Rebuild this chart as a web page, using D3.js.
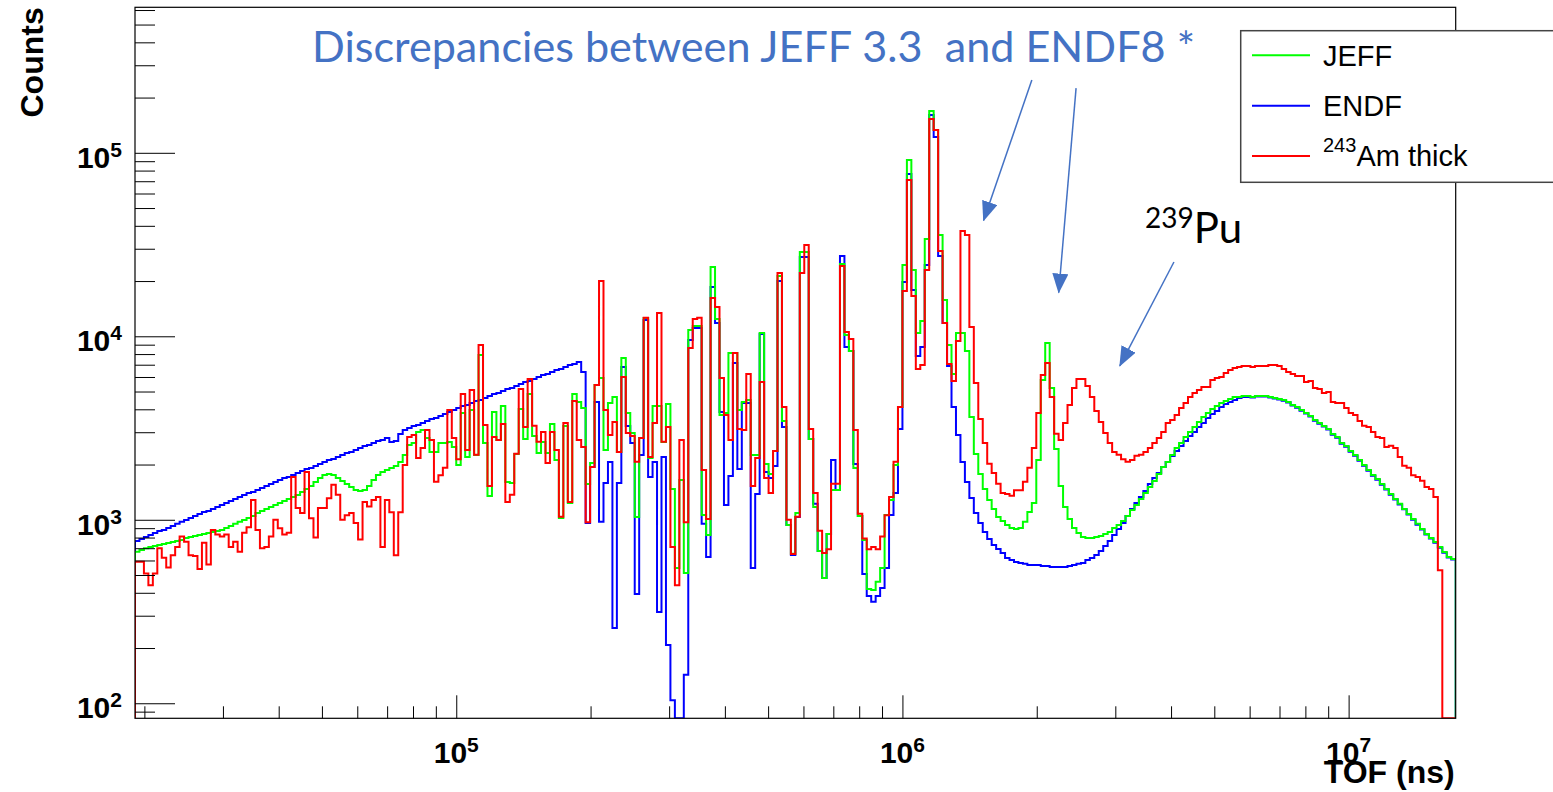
<!DOCTYPE html>
<html>
<head>
<meta charset="utf-8">
<title>TOF spectra - JEFF vs ENDF</title>
<script src="https://cdn.jsdelivr.net/npm/d3@7"></script>
<style>
  body { margin: 0; background: #fff; }
  svg { font-family: "Liberation Sans", Arial, Helvetica, sans-serif; }
</style>
</head>
<body>
<div id="chart"></div>
<script>
// Histogram binning: 100 logarithmic bins per decade, first edge at 10^4.28 ns
const binLogStart = 4.28;
const binsPerDecade = 100;

// JEFF 3.3 (green)
const jeffCounts = [
  670, 685, 700, 710, 720, 729, 738, 748, 757, 766,
  776, 796, 806, 816, 826, 837, 848, 859, 869, 880,
  902, 926, 950, 974, 998, 1023, 1049, 1090, 1117, 1146,
  1175, 1205, 1236, 1267, 1298, 1332, 1365, 1418, 1471, 1529,
  1608, 1690, 1755, 1778, 1755, 1690, 1627, 1568, 1509, 1454,
  1435, 1454, 1529, 1648, 1755, 1823, 1869, 1916, 1966, 2067,
  2255, 2557, 2623, 3012, 3087, 2791, 2343, 2343, 2623, 2623,
  2657, 2494, 1990, 3822, 2200, 3967, 2255, 7907, 2623, 1349,
  3870, 2723, 4172, 1608, 1588, 2285, 4015, 2756, 4851, 2864,
  2314, 2657, 2314, 3329, 2119, 1023, 3246, 1236, 4851, 4387,
  4066, 1568, 2041, 5427, 5924, 2402, 4332, 4668, 2343, 7614,
  3822, 2974, 1036, 2791, 12580, 2172, 4172, 4172, 2657, 4279,
  1471, 546, 1648, 513, 10820, 11380, 11380, 1062, 826, 23860,
  12420, 3725, 3822, 8113, 8113, 3967, 4387, 4497, 2255, 2255,
  10420, 2016, 1778, 2371, 21320, 3454, 937, 652, 1090, 28810,
  28810, 2756, 1175, 676, 482, 837, 1454, 1454, 24790, 10160,
  8313, 1916, 1049, 776, 420, 414, 459, 546, 1062, 1283,
  1990, 4118, 24460, 91400, 22980, 10420, 12110, 33890, 169000, 133200,
  35640, 15770, 8963, 6234, 10420, 10420, 8313, 3633, 2285, 1778,
  1471, 1283, 1146, 1036, 985, 937, 902, 891, 902, 974,
  1103, 1236, 2119, 5780, 9197, 5226, 2434, 1529, 1175, 1010,
  902, 848, 806, 796, 796, 806, 816, 837, 859, 902,
  937, 985, 1049, 1131, 1205, 1298, 1401, 1509, 1627, 1778,
  1940, 2067, 2255, 2462, 2623, 2827, 3012, 3204, 3414, 3633,
  3822, 4015, 4172, 4332, 4439, 4555, 4668, 4668, 4728, 4728,
  4668, 4728, 4728, 4728, 4668, 4611, 4555, 4497, 4387, 4223,
  4118, 3967, 3822, 3680, 3499, 3371, 3246, 3124, 2937, 2827,
  2623, 2526, 2371, 2255, 2119, 1990, 1869, 1755, 1670, 1568,
  1471, 1383, 1298, 1221, 1146, 1076, 1010, 950, 891, 837,
  796, 757, 711, 668, 627, 612
];

// ENDF/B-VIII (blue)
const endfCounts = [
  766, 786, 806, 826, 848, 869, 880, 902, 926, 950,
  974, 998, 1023, 1049, 1076, 1103, 1117, 1146, 1175, 1205,
  1236, 1267, 1298, 1332, 1365, 1401, 1418, 1454, 1490, 1529,
  1568, 1608, 1648, 1690, 1712, 1755, 1801, 1845, 1892, 1916,
  1966, 2016, 2067, 2119, 2145, 2200, 2255, 2314, 2343, 2402,
  2462, 2526, 2557, 2623, 2688, 2723, 2791, 2657, 2688, 2937,
  3087, 3166, 3246, 3285, 3371, 3454, 3543, 3588, 3680, 3775,
  3870, 3967, 4066, 4172, 4223, 4332, 4439, 4497, 4611, 4728,
  4851, 4911, 5033, 5161, 5226, 5362, 5500, 5639, 5706, 5850,
  6000, 6152, 6234, 6392, 6552, 6632, 6802, 6975, 7068, 7247,
  6392, 961, 1940, 4387, 974, 1588, 2067, 257, 1588, 6802,
  3246, 2623, 394, 2255, 12270, 1712, 2067, 314, 2200, 208,
  104, 60, 60, 143, 9546, 11090, 11090, 950, 627, 18560,
  11820, 3870, 1205, 1733, 7160, 1892, 4332, 4332, 546, 1383,
  10300, 1823, 1690, 1966, 20010, 3204, 937, 643, 1036, 27040,
  27040, 2756, 1221, 676, 482, 837, 2119, 1454, 27390, 8742,
  8313, 2016, 1049, 507, 384, 357, 384, 425, 546, 1062,
  1401, 3124, 19750, 76690, 17880, 7812, 8742, 24460, 160800, 122000,
  27390, 11820, 6890, 4118, 2899, 2067, 1608, 1315, 1090, 961,
  859, 786, 729, 693, 660, 619, 604, 589, 582, 575,
  567, 567, 567, 560, 560, 553, 553, 553, 553, 560,
  567, 575, 582, 604, 619, 643, 676, 720, 766, 826,
  891, 961, 1049, 1146, 1236, 1332, 1435, 1568, 1690, 1801,
  1940, 2067, 2228, 2371, 2526, 2688, 2864, 3012, 3204, 3371,
  3588, 3775, 3916, 4118, 4279, 4387, 4497, 4611, 4668, 4668,
  4640, 4700, 4700, 4700, 4640, 4580, 4520, 4460, 4350, 4190,
  4080, 3930, 3790, 3650, 3470, 3340, 3220, 3100, 2910, 2800,
  2600, 2500, 2350, 2230, 2100, 1970, 1850, 1740, 1650, 1550,
  1460, 1370, 1290, 1210, 1140, 1070, 1000, 940, 885, 830,
  790, 750, 705, 662, 622, 607
];

// 243Am thick sample (red)
const am243Counts = [
  590, 590, 510, 440, 510, 700, 620, 550, 640, 710,
  810, 760, 640, 635, 540, 750, 570, 880, 830, 810,
  830, 710, 760, 670, 850, 910, 1280, 880, 700, 710,
  810, 1000, 900, 830, 850, 1710, 1160, 1090, 1820, 1020,
  800, 1160, 1160, 1310, 1550, 1370, 1000, 1060, 1090, 960,
  780, 1250, 1180, 1280, 1330, 710, 1280, 1100, 640, 1100,
  1990, 2830, 2900, 2170, 2460, 3090, 2720, 1610, 1750, 1920,
  3970, 2790, 2140, 4850, 2400, 5100, 2260, 8960, 3290, 1530,
  2830, 2720, 3330, 1250, 1370, 2290, 5160, 3200, 5850, 3250,
  2660, 3010, 2040, 3010, 2400, 1040, 3370, 1250, 4440, 2720,
  2490, 970, 1940, 5430, 20000, 3970, 2900, 3410, 2340, 6000,
  2970, 2860, 2070, 2790, 12600, 2200, 3370, 13400, 2660, 3200,
  710, 440, 2720, 970, 8630, 12420, 12600, 1870, 1010, 16170,
  14440, 5920, 3730, 2720, 8110, 3120, 3090, 6230, 1530, 2170,
  5640, 1690, 1400, 2370, 22140, 4120, 1000, 650, 1040, 22140,
  31440, 3120, 1400, 870, 660, 690, 1570, 1570, 24170, 10560,
  9660, 3090, 1080, 790, 690, 710, 690, 810, 1060, 1330,
  2070, 4120, 17650, 71100, 16590, 6630, 6970, 22980, 152900, 133200,
  29150, 11820, 7070, 5710, 9420, 37470, 35640, 11240, 5570, 3540,
  2620, 2020, 1800, 1570, 1400, 1380, 1350, 1450, 1450, 1610,
  1920, 2460, 3820, 6150, 7160, 4670, 2940, 2720, 3370, 4220,
  5230, 5850, 5850, 5360, 4670, 3920, 3410, 2970, 2620, 2340,
  2260, 2140, 2070, 2120, 2230, 2260, 2340, 2460, 2620, 2790,
  3010, 3370, 3500, 3730, 4070, 4330, 4670, 4910, 5100, 5290,
  5290, 5780, 5920, 6000, 6310, 6550, 6720, 6800, 6890, 6890,
  6800, 6890, 6890, 6890, 6970, 6970, 6890, 6630, 6390, 6230,
  6080, 6080, 5640, 5710, 5230, 5160, 4910, 4970, 4390, 4330,
  4330, 4070, 3820, 3730, 3450, 3250, 3200, 3010, 2830, 2790,
  2490, 2530, 2460, 2200, 1970, 1920, 1750, 1710, 1630, 1510,
  1470, 1330, 530, 0, 0, 0
];

// Axis settings
const yRange = [82.8, 620900];
const xTickExponents = [5, 6, 7];
const yTickExponents = [2, 3, 4, 5];

// Legend
const legendLabels = ["JEFF", "ENDF", "Am thick"];
const legendSups = ["", "", "243"];
const legendColors = ["#00ff00", "#0000ff", "#ff0000"];

// Annotation arrows, in data coordinates [TOF ns, counts]
const arrowTails = [[1.95e6, 2.49e5], [2.45e6, 2.25e5], [4.06e6, 2.54e4]];
const arrowTips = [[1.52e6, 4.28e4], [2.24e6, 1.73e4], [3.07e6, 6.9e3]];

// ---------------------------------------------------------------
const width = 1553, height = 792;
const margin = { top: 7.3, right: 97.3, bottom: 73.7, left: 135 };
const innerWidth = width - margin.left - margin.right;
const innerHeight = height - margin.top - margin.bottom;

const nBins = am243Counts.length;
const binEdges = d3.range(nBins + 1).map(i => Math.pow(10, binLogStart + i / binsPerDecade));

const xScale = d3.scaleLog()
    .domain([binEdges[0], binEdges[nBins]])
    .range([0, innerWidth]);

const yScale = d3.scaleLog()
    .domain(yRange)
    .range([innerHeight, 0])
    .clamp(true);

const svg = d3.select("#chart")
    .append("svg")
    .attr("width", width)
    .attr("height", height)
    .attr("viewBox", `0 0 ${width} ${height}`);

svg.append("rect")
    .attr("width", width)
    .attr("height", height)
    .attr("fill", "#fff");

svg.append("defs").append("clipPath")
    .attr("id", "frame-clip")
    .append("rect")
    .attr("width", innerWidth)
    .attr("height", innerHeight);

const innerChart = svg.append("g")
    .attr("transform", `translate(${margin.left},${margin.top})`);

// Step outline of a histogram, ROOT "HIST" style
const histPath = (counts) => {
    const yv = v => yScale(v > 0 ? v : yRange[0]);
    let p = `M${xScale(binEdges[0])},${innerHeight}`;
    counts.forEach((v, i) => {
        p += `V${yv(v)}H${xScale(binEdges[i + 1])}`;
    });
    return p + `V${innerHeight}`;
};

const series = [
    { counts: endfCounts, color: legendColors[1] },
    { counts: jeffCounts, color: legendColors[0] },
    { counts: am243Counts, color: legendColors[2] }
];

innerChart.append("g")
    .attr("clip-path", "url(#frame-clip)")
    .selectAll("path")
    .data(series)
    .join("path")
    .attr("d", d => histPath(d.counts))
    .attr("fill", "none")
    .attr("stroke", d => d.color)
    .attr("stroke-width", 2)
    .attr("stroke-linejoin", "miter");

// Frame
innerChart.append("rect")
    .attr("width", innerWidth)
    .attr("height", innerHeight)
    .attr("fill", "none")
    .attr("stroke", "#000")
    .attr("stroke-width", 1.2);

// Ticks (major = decades, minor = 2..9)
const isDecade = v => Math.abs(Math.log10(v) - Math.round(Math.log10(v))) < 1e-9;
const xMajor = xTickExponents.map(e => Math.pow(10, e));
const yMajor = yTickExponents.map(e => Math.pow(10, e));
const xMinor = xScale.ticks().filter(v => !isDecade(v));
const yMinor = yScale.ticks().filter(v => !isDecade(v));

const tickAxis = (axis, values, size, translate) => {
    const g = innerChart.append("g")
        .attr("transform", translate)
        .call(axis.tickValues(values).tickSize(-size).tickFormat(""));
    g.select(".domain").remove();
    g.selectAll("text").remove();
    g.selectAll("line").attr("stroke", "#000");
};

tickAxis(d3.axisLeft(yScale), yMinor, 20, "translate(0,0)");
tickAxis(d3.axisLeft(yScale), yMajor, 40, "translate(0,0)");
tickAxis(d3.axisBottom(xScale), xMinor, 12, `translate(0,${innerHeight})`);
tickAxis(d3.axisBottom(xScale), xMajor, 23, `translate(0,${innerHeight})`);

// Tick labels 10^n
const powerLabel = (sel) => {
    sel.append("tspan").text("10");
    sel.append("tspan")
        .attr("dy", -11)
        .attr("font-size", 21)
        .text(d => d);
};

innerChart.append("g")
    .selectAll("text")
    .data(yTickExponents)
    .join("text")
    .attr("x", -13)
    .attr("y", d => yScale(Math.pow(10, d)) + 15)
    .attr("text-anchor", "end")
    .attr("font-size", 30)
    .attr("font-weight", "bold")
    .call(powerLabel);

innerChart.append("g")
    .selectAll("text")
    .data(xTickExponents)
    .join("text")
    .attr("x", d => xScale(Math.pow(10, d)))
    .attr("y", innerHeight + 45)
    .attr("text-anchor", "middle")
    .attr("font-size", 30)
    .attr("font-weight", "bold")
    .call(powerLabel);

// Axis titles
svg.append("text")
    .text("TOF (ns)")
    .attr("x", margin.left + innerWidth - 1)
    .attr("y", 783)
    .attr("text-anchor", "end")
    .attr("font-size", 32)
    .attr("font-weight", "bold");

svg.append("text")
    .text("Counts")
    .attr("transform", `translate(43,${margin.top}) rotate(-90)`)
    .attr("text-anchor", "end")
    .attr("font-size", 32)
    .attr("font-weight", "bold");

// Legend box
const legend = svg.append("g").attr("class", "legend");
legend.append("rect")
    .attr("x", 1240.7)
    .attr("y", 30.7)
    .attr("width", 340)
    .attr("height", 151.6)
    .attr("fill", "#fff")
    .attr("stroke", "#444")
    .attr("stroke-width", 1.5);

legendLabels.forEach((label, i) => {
    const g = legend.append("g").attr("transform", `translate(0,${i * 50.4})`);
    g.append("line")
        .attr("x1", 1252)
        .attr("x2", 1310)
        .attr("y1", 55.3)
        .attr("y2", 55.3)
        .attr("stroke", legendColors[i])
        .attr("stroke-width", 2);
    const t = g.append("text")
        .attr("x", 1323)
        .attr("y", 65.7)
        .attr("font-size", 29);
    if (legendSups[i]) {
        t.append("tspan").attr("font-size", 20).attr("dy", -14).text(legendSups[i]);
        t.append("tspan").attr("dy", 14).text(label);
    } else {
        t.text(label);
    }
});

// Annotations
const annotBlue = "#4472c4";
svg.append("text")
    .text("Discrepancies between JEFF 3.3  and ENDF8 *")
    .attr("x", 312)
    .attr("y", 62)
    .attr("font-size", 42)
    .attr("fill", annotBlue)
    .attr("textLength", 883)
    .attr("lengthAdjust", "spacingAndGlyphs")
    .style("font-family", "Lato, 'Open Sans', sans-serif")
    .style("white-space", "pre");

const pu = svg.append("text")
    .attr("x", 1145)
    .style("font-family", "Lato, 'Open Sans', sans-serif")
    .attr("fill", "#000");
pu.append("tspan").attr("y", 228).attr("font-size", 28).text("239");
pu.append("tspan").attr("y", 243).attr("font-size", 42).text("Pu");

svg.select("defs").append("marker")
    .attr("id", "arrow-head")
    .attr("markerUnits", "userSpaceOnUse")
    .attr("viewBox", "0 0 20 16")
    .attr("markerWidth", 20)
    .attr("markerHeight", 16)
    .attr("refX", 19)
    .attr("refY", 8)
    .attr("orient", "auto")
    .append("path")
    .attr("d", "M0,0 L20,8 L0,16 Z")
    .attr("fill", annotBlue);

innerChart.append("g")
    .selectAll("line")
    .data(d3.zip(arrowTails, arrowTips))
    .join("line")
    .attr("x1", d => xScale(d[0][0]))
    .attr("y1", d => yScale(d[0][1]))
    .attr("x2", d => xScale(d[1][0]))
    .attr("y2", d => yScale(d[1][1]))
    .attr("stroke", annotBlue)
    .attr("stroke-width", 1.5)
    .attr("marker-end", "url(#arrow-head)");
</script>
</body>
</html>
